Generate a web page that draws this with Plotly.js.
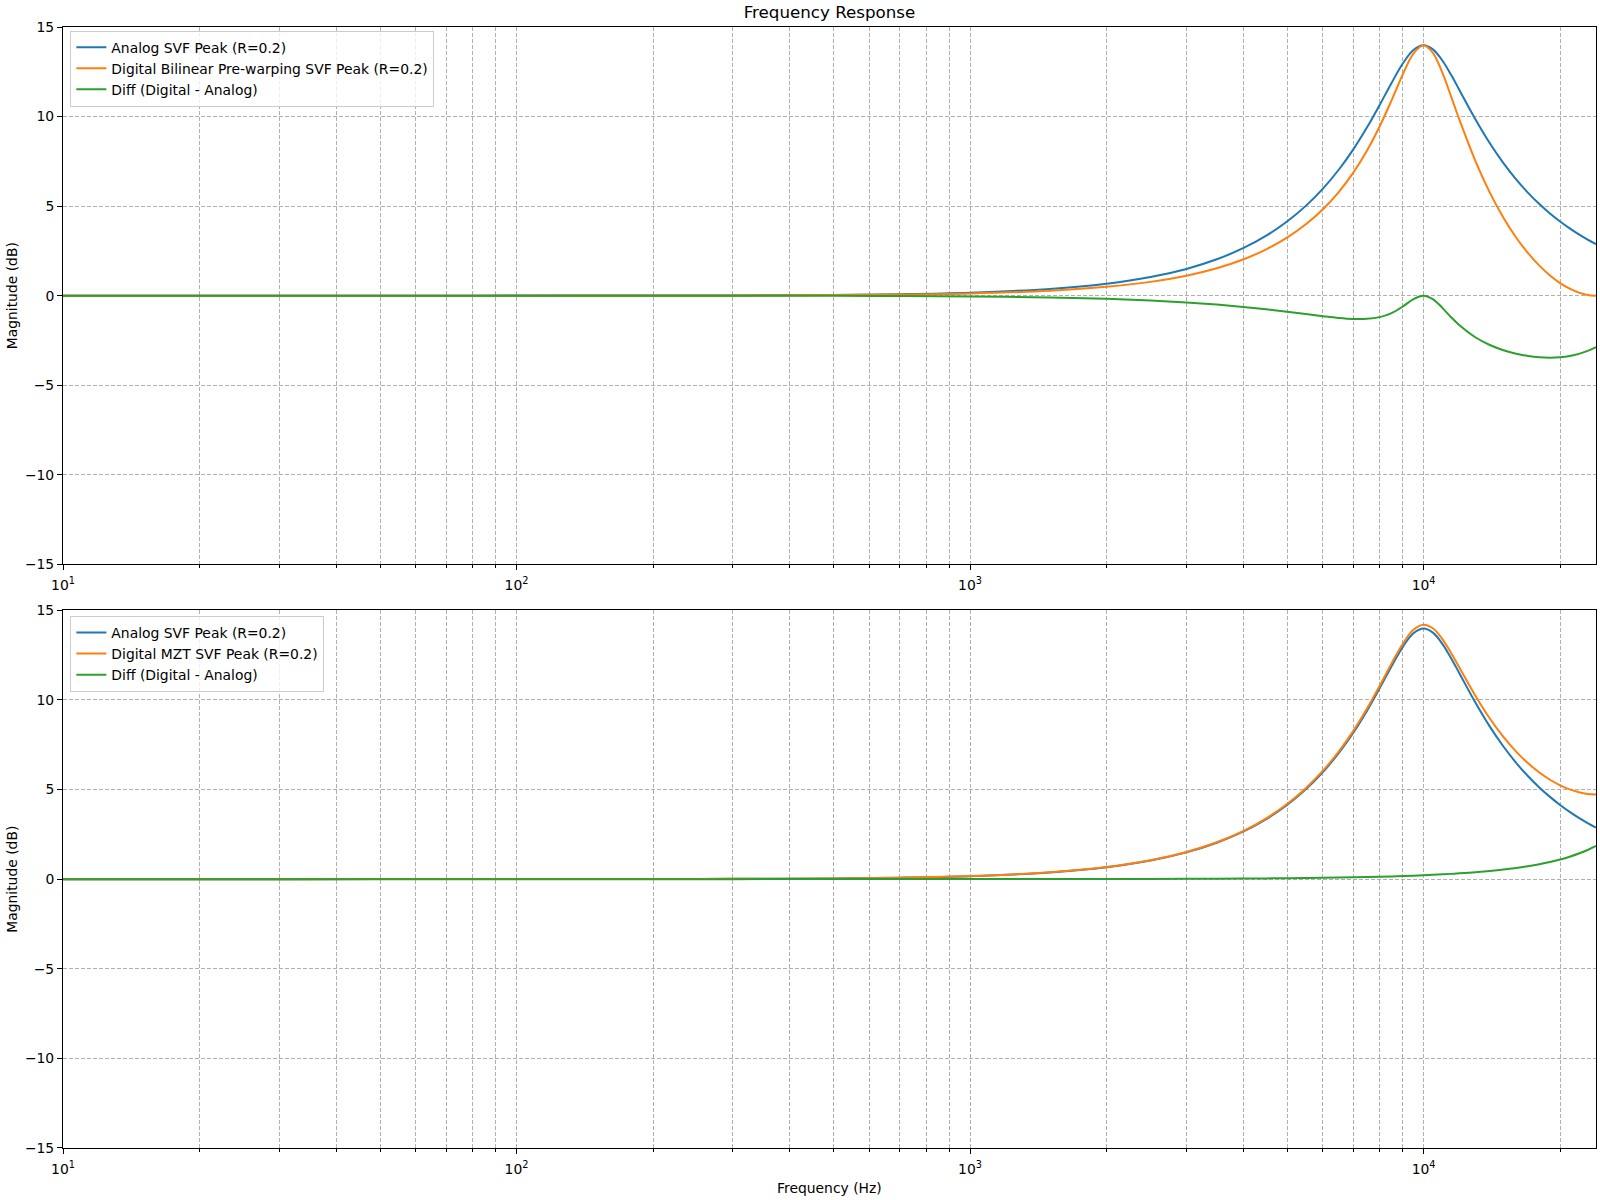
<!DOCTYPE html>
<html>
<head>
<meta charset="utf-8">
<script src="https://cdn.plot.ly/plotly-3.0.1.min.js"></script>
<style>html,body{margin:0;padding:0;background:#fff}#chart{width:1600px;height:1200px}</style>
</head>
<body>
<div id="chart"></div>
<script>
// Frequencies (Hz) at which the curves were read
const freqHz = [10, 20, 50, 100, 200, 300, 500, 700, 1000, 1500, 2000, 2500, 3000, 3500, 4000, 4500, 5000, 5500, 6000, 6500, 7000, 7500, 8000, 8500, 9000, 9500, 10000, 10500, 11000, 11500, 12000, 13000, 14000, 15000, 16000, 17000, 18000, 19000, 20000, 21000, 22000, 23000, 24000];

// Analog SVF peak (R=0.2), dB
const analogDb = [0.0000, 0.0000, 0.0004, 0.0017, 0.0067, 0.0150, 0.0417, 0.0817, 0.1666, 0.3746, 0.6652, 1.038, 1.493, 2.030, 2.649, 3.351, 4.139, 5.013, 5.976, 7.029, 8.168, 9.383, 10.642, 11.876, 12.960, 13.714, 13.979, 13.738, 13.128, 12.328, 11.474, 9.865, 8.508, 7.399, 6.491, 5.741, 5.115, 4.588, 4.139, 3.753, 3.419, 3.129, 2.874];

// Digital bilinear pre-warping SVF peak (R=0.2), dB
const bilinearDb = [0.0000, 0.0000, 0.0003, 0.0012, 0.0048, 0.0109, 0.0303, 0.0595, 0.1216, 0.2744, 0.4899, 0.7695, 1.116, 1.531, 2.020, 2.587, 3.239, 3.982, 4.828, 5.785, 6.869, 8.088, 9.444, 10.904, 12.355, 13.519, 13.979, 13.533, 12.447, 11.126, 9.817, 7.541, 5.752, 4.353, 3.248, 2.371, 1.675, 1.126, 0.703, 0.388, 0.170, 0.042, 0.000];

// Diff (bilinear - analog), dB
const diffBilinearDb = [0.0000, 0.0000, -0.0001, -0.0005, -0.0019, -0.0041, -0.0114, -0.0222, -0.0450, -0.1002, -0.1753, -0.2685, -0.377, -0.499, -0.629, -0.764, -0.900, -1.031, -1.148, -1.244, -1.299, -1.295, -1.198, -0.972, -0.605, -0.195, 0.000, -0.205, -0.681, -1.202, -1.657, -2.324, -2.756, -3.046, -3.243, -3.370, -3.440, -3.462, -3.436, -3.365, -3.249, -3.087, -2.874];

// Digital MZT SVF peak (R=0.2), dB
const mztDb = [0.0000, 0.0000, 0.0004, 0.0017, 0.0068, 0.0152, 0.0422, 0.0826, 0.1685, 0.3789, 0.6731, 1.0505, 1.5109, 2.0544, 2.6814, 3.3926, 4.1901, 5.0750, 6.0501, 7.1161, 8.2704, 9.5011, 10.7770, 12.0298, 13.1334, 13.9080, 14.1960, 13.9792, 13.3939, 12.6211, 11.7965, 10.2500, 8.9644, 7.9341, 7.1145, 6.4636, 5.9485, 5.5446, 5.2342, 5.0044, 4.8460, 4.7533, 4.7224];

// Diff (MZT - analog), dB
const diffMztDb = [0.0000, 0.0000, 0.0000, 0.0000, 0.0001, 0.0002, 0.0005, 0.0009, 0.0019, 0.0043, 0.0079, 0.0125, 0.0179, 0.0248, 0.0325, 0.0416, 0.0514, 0.0620, 0.0741, 0.0876, 0.1024, 0.1181, 0.1350, 0.1538, 0.1734, 0.1940, 0.2170, 0.2412, 0.2659, 0.2931, 0.3225, 0.3850, 0.4564, 0.5351, 0.6235, 0.7226, 0.8335, 0.9566, 1.0952, 1.2514, 1.4270, 1.6243, 1.8484];

const namesTop = ['Analog SVF Peak (R=0.2)', 'Digital Bilinear Pre-warping SVF Peak (R=0.2)', 'Diff (Digital - Analog)'];
const namesBottom = ['Analog SVF Peak (R=0.2)', 'Digital MZT SVF Peak (R=0.2)', 'Diff (Digital - Analog)'];
const yTitle = 'Magnitude (dB)';
const xTitle = 'Frequency (Hz)';

const xTickVals = [10, 100, 1000, 10000];
const xTickText = ['10<sup>1</sup>', '10<sup>2</sup>', '10<sup>3</sup>', '10<sup>4</sup>'];
const xMinorVals = [20, 30, 40, 50, 60, 70, 80, 90, 200, 300, 400, 500, 600, 700, 800, 900, 2000, 3000, 4000, 5000, 6000, 7000, 8000, 9000, 20000];
const xMaxHz = 24000;
const yTickVals = [-15, -10, -5, 0, 5, 10, 15];

const colors = ['#1f77b4', '#ff7f0e', '#2ca02c'];
const FONT = 'DejaVu Sans, Verdana, sans-serif';
const FS = 13.9;
const GRID = '#b0b0b0';
const DASH = '4px,2px';

function tr(y, name, color, xa, ya, leg) {
  return {x: freqHz, y: y, name: name, type: 'scatter', mode: 'lines',
    line: {color: color, width: 2, shape: 'spline', smoothing: 1},
    xaxis: xa, yaxis: ya, legend: leg, hoverinfo: 'skip'};
}

const data = [
  tr(analogDb, namesTop[0], colors[0], 'x', 'y', 'legend'),
  tr(bilinearDb, namesTop[1], colors[1], 'x', 'y', 'legend'),
  tr(diffBilinearDb, namesTop[2], colors[2], 'x', 'y', 'legend'),
  tr(analogDb, namesBottom[0], colors[0], 'x2', 'y2', 'legend2'),
  tr(mztDb, namesBottom[1], colors[1], 'x2', 'y2', 'legend2'),
  tr(diffMztDb, namesBottom[2], colors[2], 'x2', 'y2', 'legend2')
];

function xAxis(anchor) {
  return {
    type: 'log', range: [1, Math.log10(xMaxHz)], anchor: anchor,
    tickmode: 'array', tickvals: xTickVals, ticktext: xTickText,
    ticks: 'outside', ticklen: 5, tickwidth: 1, tickcolor: '#000', ticklabelstandoff: 3,
    showline: true, mirror: true, linecolor: '#000', linewidth: 1,
    showgrid: true, gridcolor: GRID, griddash: DASH, gridwidth: 1,
    minor: {tickmode: 'array', tickvals: xMinorVals, ticks: 'outside', ticklen: 3, tickwidth: 1, tickcolor: '#000',
      showgrid: true, gridcolor: GRID, griddash: DASH, gridwidth: 1},
    tickfont: {family: FONT, size: FS, color: '#000'},
    zeroline: false, automargin: false
  };
}
function yAxis(anchor, domain) {
  return {
    range: [-15, 15], domain: domain, anchor: anchor,
    tickmode: 'array', tickvals: yTickVals,
    ticks: 'outside', ticklen: 5, tickwidth: 1, tickcolor: '#000',
    showline: true, mirror: true, linecolor: '#000', linewidth: 1,
    showgrid: true, gridcolor: GRID, griddash: DASH, gridwidth: 1,
    zeroline: false, automargin: false,
    tickfont: {family: FONT, size: FS, color: '#000'}
  };
}
function legendCfg(y) {
  return {x: 0.0048, y: y, xanchor: 'left', yanchor: 'top', xref: 'paper', yref: 'paper',
    bgcolor: 'rgba(255,255,255,0.8)', bordercolor: '#cccccc', borderwidth: 1,
    font: {family: FONT, size: FS, color: '#000'}, itemwidth: 30, traceorder: 'normal'};
}
function yTitleAnn(yref) {
  return {text: yTitle, xref: 'paper', yref: yref + ' domain', x: (11.7 - 63) / 1533, y: 0.5,
    xanchor: 'center', yanchor: 'middle', textangle: -90, showarrow: false,
    font: {family: FONT, size: FS, color: '#000'}};
}

const layout = {
  width: 1600, height: 1200,
  margin: {l: 63, r: 4, t: 27, b: 52},
  paper_bgcolor: '#fff', plot_bgcolor: '#fff',
  font: {family: FONT, size: FS, color: '#000'},
  title: {text: 'Frequency Response', font: {family: FONT, size: 16.7, color: '#000'},
    x: 0.5, xref: 'paper', xanchor: 'center', y: 1 - 12 / 1200, yref: 'container', yanchor: 'middle'},
  xaxis: xAxis('y'),
  yaxis: yAxis('x', [0.5207, 1]),
  xaxis2: xAxis('y2'),
  yaxis2: yAxis('x2', [0, 0.4797]),
  legend: legendCfg(0.9967),
  legend2: legendCfg(0.4746),
  showlegend: true,
  annotations: [
    yTitleAnn('y'),
    yTitleAnn('y2'),
    {text: xTitle, xref: 'paper', yref: 'paper', x: 0.5, y: (1148 - 1188) / 1121,
      xanchor: 'center', yanchor: 'middle', showarrow: false,
      font: {family: FONT, size: FS, color: '#000'}}
  ]
};

Plotly.newPlot('chart', data, layout, {staticPlot: true});
</script>
</body>
</html>
